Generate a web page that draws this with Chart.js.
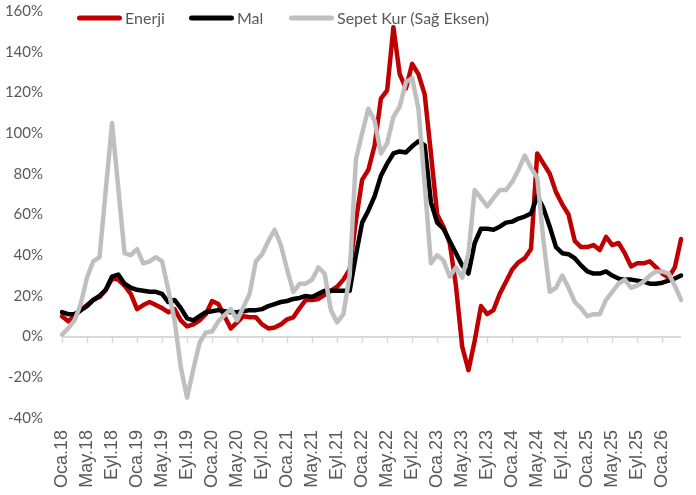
<!DOCTYPE html>
<html>
<head>
<meta charset="utf-8">
<script src="https://cdn.jsdelivr.net/npm/chart.js@4.4.1/dist/chart.umd.min.js"></script>
<style>
  html, body { margin: 0; padding: 0; background: #ffffff; }
  #wrap { width: 696px; height: 495px; position: relative; }
</style>
</head>
<body>
<div id="wrap"><canvas id="c" width="696" height="495"></canvas></div>
<script>
// ---- data ----
const categories = [
  'Oca.18','Şub.18','Mar.18','Nis.18','May.18','Haz.18','Tem.18','Ağu.18','Eyl.18','Eki.18','Kas.18','Ara.18',
  'Oca.19','Şub.19','Mar.19','Nis.19','May.19','Haz.19','Tem.19','Ağu.19','Eyl.19','Eki.19','Kas.19','Ara.19',
  'Oca.20','Şub.20','Mar.20','Nis.20','May.20','Haz.20','Tem.20','Ağu.20','Eyl.20','Eki.20','Kas.20','Ara.20',
  'Oca.21','Şub.21','Mar.21','Nis.21','May.21','Haz.21','Tem.21','Ağu.21','Eyl.21','Eki.21','Kas.21','Ara.21',
  'Oca.22','Şub.22','Mar.22','Nis.22','May.22','Haz.22','Tem.22','Ağu.22','Eyl.22','Eki.22','Kas.22','Ara.22',
  'Oca.23','Şub.23','Mar.23','Nis.23','May.23','Haz.23','Tem.23','Ağu.23','Eyl.23','Eki.23','Kas.23','Ara.23',
  'Oca.24','Şub.24','Mar.24','Nis.24','May.24','Haz.24','Tem.24','Ağu.24','Eyl.24','Eki.24','Kas.24','Ara.24',
  'Oca.25','Şub.25','Mar.25','Nis.25','May.25','Haz.25','Tem.25','Ağu.25','Eyl.25','Eki.25','Kas.25','Ara.25',
  'Oca.26','Şub.26','Mar.26','Nis.26'
];

const tickLabels = [
  'Oca.18','May.18','Eyl.18','Oca.19','May.19','Eyl.19','Oca.20','May.20','Eyl.20',
  'Oca.21','May.21','Eyl.21','Oca.22','May.22','Eyl.22','Oca.23','May.23','Eyl.23',
  'Oca.24','May.24','Eyl.24','Oca.25','May.25','Eyl.25','Oca.26'
];

const enerji = [
  10, 7.5, 10, 13, 15.5, 18, 19.5, 23, 28.5, 28,
  25, 21, 13.5, 15.5, 17, 15.5, 14, 12, 13.5, 8,
  5, 6, 8, 11, 17.5, 16, 10, 4, 7, 10,
  9.5, 9.5, 6, 4, 4.5, 6, 8.5, 9.5, 14, 18,
  18, 18.5, 20.5, 22.5, 24.5, 28, 33, 57, 77, 82,
  94, 117, 121, 152, 129, 122, 134, 129, 119, 90,
  60, 54, 46, 25, -5, -16.5, -2, 15, 11, 13,
  21, 27, 33, 36.5, 38.5, 43, 90, 85, 80, 71,
  65, 60, 47, 44, 44, 45, 42.5, 49, 45, 46,
  41, 34.5, 36, 36, 37, 34, 31, 29, 34, 48
];

const mal = [
  12, 11, 11, 13, 15, 18, 20, 23, 29.5, 30.5,
  26, 24, 23, 22.5, 22, 22, 21, 17, 18, 14,
  9, 8, 10, 12, 12.5, 13, 12.5, 12, 12, 12.5,
  13, 13, 13.5, 15, 16, 17, 17.5, 18.5, 19, 20,
  19.5, 21, 22.5, 22.5, 22.5, 22.5, 22.5, 40, 56, 62,
  69, 79, 85, 90, 91, 90.5, 93.5, 96, 94, 66,
  56, 53, 47, 41, 35, 31, 46, 53, 53, 52.5,
  54, 56, 56.5, 58, 59, 60.5, 69, 63, 54, 44,
  41, 40.5, 38.5, 35, 32, 31, 31, 32, 30, 28.5,
  28, 28, 27.5, 27, 26, 26, 26.5, 27.5, 28.5, 30
];

const sepetKur = [
  1, 4, 8, 16, 29, 37, 39, 72, 105, 73,
  41, 40, 43, 36, 37, 39, 37, 23, 8, -15,
  -30, -16, -3, 2, 2.5, 7.5, 10.5, 13.5, 8, 14.5,
  21, 37, 40.5, 47, 52.5, 45, 33, 22, 26, 26,
  28, 34, 31, 13, 7, 11, 30, 87, 100, 112,
  106, 90, 95, 108, 113, 125, 127, 112, 75, 36,
  40, 37.5, 29.5, 34, 29, 41, 72, 68, 64, 68,
  72, 72, 76, 82, 89, 83, 78, 47, 22, 24,
  30, 24, 17, 14, 10, 11, 11, 18, 22, 26,
  28, 24, 25, 27, 30, 32, 32, 31, 25, 18
];

const seriesNames = ['Enerji', 'Mal', 'Sepet Kur (Sağ Eksen)'];
const seriesColors = ['#C00000', '#000000', '#BFBFBF'];

// ---- helpers ----
function keepLabelledTicks(scale) {
  scale.ticks = scale.ticks.filter(t => tickLabels.includes(categories[t.value]));
}

// tick marks hanging under the 0% line, placed with the library's own scales
const zeroAxisTicks = {
  id: 'zeroAxisTicks',
  beforeDatasetsDraw(chart) {
    const ctx = chart.ctx;
    const xs = chart.scales.x;
    const y0 = Math.round(chart.scales.y.getPixelForValue(0));
    ctx.save();
    ctx.strokeStyle = '#D9D9D9';
    ctx.lineWidth = 1.5;
    xs.ticks.forEach((t, i) => {
      const px = Math.round(xs.getPixelForTick(i)) + 0.5;
      ctx.beginPath();
      ctx.moveTo(px, y0);
      ctx.lineTo(px, y0 + 6);
      ctx.stroke();
    });
    ctx.restore();
  }
};

const excelLegend = {
  id: 'excelLegend',
  afterDraw(chart) {
    const ctx = chart.ctx;
    const starts = [79.5, 191.5, 291.5];
    ctx.save();
    ctx.font = '16px Lato';
    ctx.textBaseline = 'alphabetic';
    ctx.textAlign = 'left';
    chart.data.datasets.forEach((ds, k) => {
      const x0 = starts[k];
      ctx.strokeStyle = ds.borderColor;
      ctx.lineWidth = 5;
      ctx.lineCap = 'round';
      ctx.beginPath();
      ctx.moveTo(x0, 18);
      ctx.lineTo(x0 + 40, 18);
      ctx.stroke();
      ctx.fillStyle = '#595959';
      ctx.fillText(ds.label, x0 + 45.5, 24);
    });
    ctx.restore();
  }
};

function draw() {
  new Chart(document.getElementById('c'), {
    type: 'line',
    data: {
      labels: categories,
      datasets: [
        { label: seriesNames[0], data: enerji, borderColor: seriesColors[0], yAxisID: 'y', order: 3 },
        { label: seriesNames[1], data: mal, borderColor: seriesColors[1], yAxisID: 'y', order: 2 },
        { label: seriesNames[2], data: sepetKur, borderColor: seriesColors[2], yAxisID: 'y1', order: 1 }
      ]
    },
    options: {
      responsive: false,
      animation: false,
      layout: { padding: { top: 11, right: 3, bottom: 0, left: 0 } },
      elements: {
        line: { borderWidth: 4.5, tension: 0, borderJoinStyle: 'round', borderCapStyle: 'round', fill: false },
        point: { radius: 0, hoverRadius: 0, hitRadius: 0 }
      },
      plugins: { legend: { display: false }, tooltip: { enabled: false } },
      scales: {
        x: {
          type: 'category',
          position: 'bottom',
          offset: false,
          grid: { display: false, drawTicks: false },
          border: { display: false },
          afterBuildTicks: keepLabelledTicks,
          afterFit: s => { s.height = 77; },
          ticks: {
            autoSkip: false,
            minRotation: 90,
            maxRotation: 90,
            padding: 12,
            color: '#595959',
            font: { family: '"Liberation Sans", Arial, sans-serif', size: 18 },
            callback: function (v) { return this.getLabelForValue(v); }
          }
        },
        y: {
          position: 'left',
          min: -40,
          max: 160,
          afterFit: s => { s.width = 62; s.paddingTop = 0; s.paddingBottom = 0; },
          border: { display: false },
          grid: {
            drawTicks: false,
            lineWidth: 2,
            color: c => (c.tick && c.tick.value === 0) ? '#D9D9D9' : 'rgba(0,0,0,0)'
          },
          ticks: {
            stepSize: 20,
            padding: 19,
            color: '#595959',
            font: { family: 'Lato, sans-serif', size: 15 },
            callback: v => v + '%'
          }
        },
        y1: {
          position: 'right',
          min: -40,
          max: 160,
          display: false,
          grid: { drawOnChartArea: false }
        }
      }
    },
    plugins: [zeroAxisTicks, excelLegend]
  });
}

if (document.fonts && document.fonts.load) {
  Promise.all([
    document.fonts.load('16px Lato'),
    document.fonts.load('18px "Liberation Sans"')
  ]).then(draw, draw);
} else {
  draw();
}
</script>
</body>
</html>
